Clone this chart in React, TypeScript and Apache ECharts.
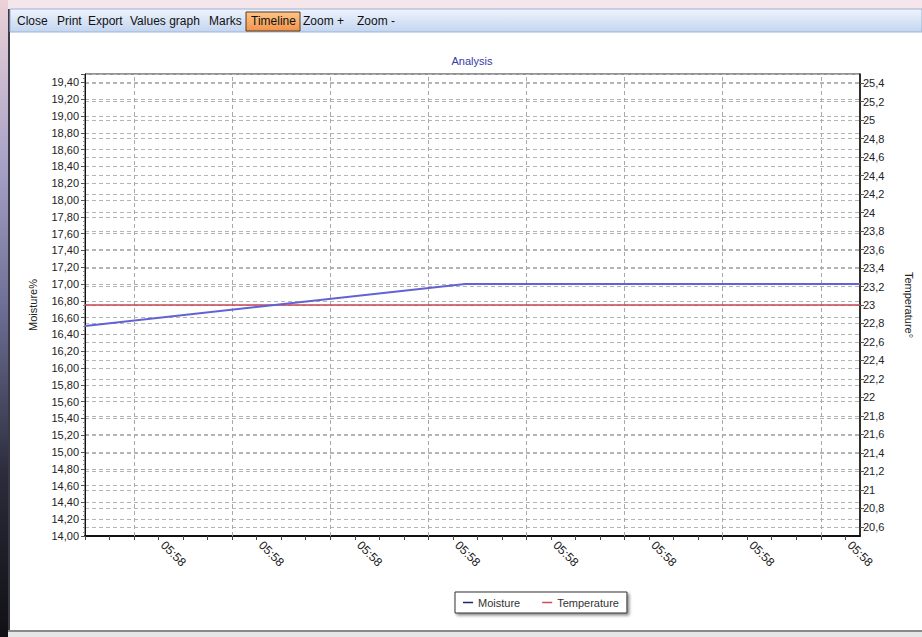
import React, { useEffect, useRef } from "react";
import * as echarts from "echarts";

// ---- data ----
const moistureX = [0, 15.5, 31.6];
const moistureValues = [16.5, 17.0, 17.0];
const temperatureX = [0, 31.6];
const temperatureValues = [23.0, 23.0];
const timeLabel = "05:58";
const labelPositions = [3, 7, 11, 15, 19, 23, 27, 31];
const verticalGridPositions = [2, 6, 10, 14, 18, 22, 26, 30];
const temperatureTicks = [
  20.6, 20.8, 21, 21.2, 21.4, 21.6, 21.8, 22, 22.2, 22.4, 22.6, 22.8, 23, 23.2, 23.4, 23.6, 23.8, 24, 24.2, 24.4,
  24.6, 24.8, 25, 25.2, 25.4,
];
const toolbarItems = ["Close", "Print", "Export", "Values graph", "Marks", "Timeline", "Zoom +", "Zoom -"];
const toolbarX = [17, 57, 88, 130, 209, 251, 303, 357];
const activeToolbarItem = "Timeline";

export default function App() {
  const ref = useRef<HTMLDivElement>(null);
  useEffect(() => {
    if (!ref.current) return;
    const chart = echarts.init(ref.current, undefined, { renderer: "svg" });
    const font = "Liberation Sans, Arial, sans-serif";

    const toolbarGraphics: any[] = [];
    toolbarItems.forEach((t, i) => {
      if (t === activeToolbarItem) {
        toolbarGraphics.push({
          type: "rect",
          shape: { x: 246, y: 12, width: 54, height: 19 },
          style: {
            fill: new echarts.graphic.LinearGradient(0, 0, 0, 1, [
              { offset: 0, color: "#fdc58a" },
              { offset: 1, color: "#f3934a" },
            ]),
            stroke: "#5b3a22",
            lineWidth: 1,
          },
          z: 10,
        });
      }
      toolbarGraphics.push({
        type: "text",
        x: toolbarX[i],
        y: 21,
        style: { text: t, fill: "#111", font: `12px ${font}`, textVerticalAlign: "middle" },
        z: 11,
      });
    });

    const option: any = {
      animation: false,
      backgroundColor: "#ffffff",
      textStyle: { fontFamily: font },
      title: {
        text: "Analysis",
        left: 467,
        top: 50,
        textAlign: "center",
        textStyle: { fontSize: 11, fontWeight: "normal", color: "#3a3aa8", fontFamily: font },
      },
      graphic: [
        { type: "rect", shape: { x: 0, y: 0, width: 922, height: 9 }, style: { fill: "#f4e6ea" }, z: 1 },
        {
          type: "rect",
          shape: { x: 0, y: 0, width: 8, height: 637 },
          style: {
            fill: new echarts.graphic.LinearGradient(0, 0, 0, 1, [
              { offset: 0, color: "#ecd2d8" },
              { offset: 0.25, color: "#a9a3c8" },
              { offset: 0.5, color: "#6a6a90" },
              { offset: 0.75, color: "#2a2a3a" },
              { offset: 1, color: "#101014" },
            ]),
          },
          z: 1,
        },
        { type: "rect", shape: { x: 8, y: 9, width: 2, height: 624 }, style: { fill: "#3a3a44" }, z: 2 },
        {
          type: "rect",
          shape: { x: 10, y: 9, width: 912, height: 23 },
          style: {
            fill: new echarts.graphic.LinearGradient(0, 0, 0, 1, [
              { offset: 0, color: "#eef4fc" },
              { offset: 1, color: "#c3d5f0" },
            ]),
            stroke: "#9db2d6",
            lineWidth: 1,
          },
          z: 2,
        },
        { type: "rect", shape: { x: 8, y: 630, width: 914, height: 2 }, style: { fill: "#8a8a8a" }, z: 2 },
        { type: "rect", shape: { x: 8, y: 632, width: 914, height: 5 }, style: { fill: "#e6e6e6" }, z: 2 },
        ...toolbarGraphics,
      ],
      legend: {
        left: 455,
        top: 592,
        orient: "horizontal",
        backgroundColor: "#ffffff",
        borderColor: "#333",
        borderWidth: 1,
        padding: [5, 8, 5, 8],
        shadowColor: "rgba(0,0,0,0.45)",
        shadowBlur: 3,
        shadowOffsetX: 2,
        shadowOffsetY: 2,
        itemGap: 22,
        itemWidth: 10,
        itemHeight: 1.5,
        textStyle: { fontSize: 11, color: "#333", fontFamily: font },
        data: [
          { name: "Moisture", icon: "rect", itemStyle: { color: "#22226e" } },
          { name: "Temperature", icon: "rect", itemStyle: { color: "#d0485a" } },
        ],
      },
      grid: {
        left: 85,
        top: 74,
        right: 60,
        bottom: 101,
        show: true,
        borderColor: "#222",
        borderWidth: 1,
        backgroundColor: "transparent",
      },
      xAxis: {
        type: "value",
        min: 0,
        max: 31.6,
        interval: 1,
        axisLine: { show: true, lineStyle: { color: "#111", width: 2 } },
        axisTick: { show: true, length: 4, lineStyle: { color: "#444" } },
        splitLine: { show: false },
        axisLabel: {
          rotate: -45,
          margin: 3,
          padding: [0, 0, 0, 6],
          fontSize: 12,
          color: "#222",
          fontFamily: font,
          showMaxLabel: false,
          formatter: (v: number) => (labelPositions.indexOf(Math.round(v * 100) / 100) >= 0 ? timeLabel : ""),
        },
      },
      yAxis: [
        {
          type: "value",
          position: "left",
          min: 14,
          max: 19.5,
          interval: 0.2,
          name: "Moisture%",
          nameLocation: "middle",
          nameRotate: 90,
          nameGap: 47,
          nameTextStyle: { fontSize: 11, color: "#222", fontFamily: font },
          axisLine: { show: true, lineStyle: { color: "#111", width: 1 } },
          axisTick: { show: true, length: 4, lineStyle: { color: "#555" } },
          minorTick: { show: true, splitNumber: 4, length: 2, lineStyle: { color: "#888" } },
          splitLine: { show: true, lineStyle: { color: "#b4b4b4", type: [4, 3], width: 1 } },
          axisLabel: {
            fontSize: 11,
            color: "#222",
            fontFamily: font,
            margin: 6,
            showMaxLabel: false,
            formatter: (v: number) => v.toFixed(2).replace(".", ","),
          },
        },
        {
          type: "value",
          position: "right",
          min: 20.5,
          max: 25.5,
          name: "Temperature°",
          nameLocation: "middle",
          nameRotate: -90,
          nameGap: 43,
          nameTextStyle: { fontSize: 11, color: "#222", fontFamily: font },
          axisLine: { show: true, lineStyle: { color: "#111", width: 1.5 } },
          axisTick: { show: true, length: 4, customValues: temperatureTicks, lineStyle: { color: "#555" } },
          splitLine: { show: true, lineStyle: { color: "#b4b4b4", type: [4, 3], width: 1 } },
          axisLabel: {
            fontSize: 11,
            color: "#222",
            fontFamily: font,
            margin: 3,
            customValues: temperatureTicks,
            formatter: (v: number) => String(Math.round(v * 10) / 10).replace(".", ","),
          },
        },
      ],
      series: [
        {
          name: "Moisture",
          type: "line",
          yAxisIndex: 0,
          showSymbol: false,
          symbol: "none",
          color: "#22226e",
          lineStyle: { color: "#6262d4", width: 2 },
          data: moistureX.map((x, i) => [x, moistureValues[i]]),
          z: 5,
          markLine: {
            silent: true,
            symbol: "none",
            label: { show: false },
            lineStyle: { color: "#a8a8a8", type: [4, 3], width: 1 },
            data: verticalGridPositions.map((x) => ({ xAxis: x })),
            z: 1,
          },
        },
        {
          name: "Temperature",
          type: "line",
          yAxisIndex: 1,
          showSymbol: false,
          symbol: "none",
          color: "#d0485a",
          lineStyle: { color: "#c84652", width: 1.5 },
          data: temperatureX.map((x, i) => [x, temperatureValues[i]]),
          z: 4,
        },
      ],
    };
    chart.setOption(option);
    return () => chart.dispose();
  }, []);
  return (
    <div
      ref={ref}
      style={{ position: "fixed", left: 0, top: 0, width: 922, height: 637, background: "#fff" }}
    />
  );
}
